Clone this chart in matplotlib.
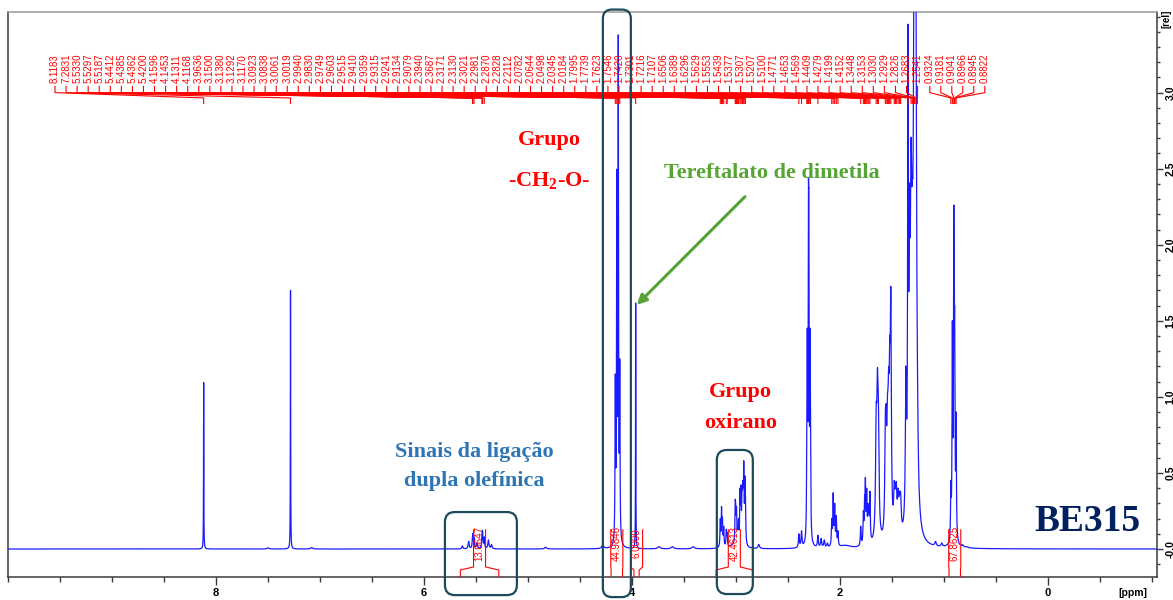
import numpy as np
import matplotlib
matplotlib.use("Agg")
import matplotlib.pyplot as plt
from matplotlib.patches import FancyBboxPatch
from matplotlib.transforms import IdentityTransform
from matplotlib.collections import LineCollection
from matplotlib.ticker import FixedLocator, MultipleLocator

plt.rcParams['mathtext.fontset'] = 'custom'
plt.rcParams['mathtext.rm'] = 'Liberation Serif:bold'
plt.rcParams['mathtext.it'] = 'Liberation Serif:bold'
plt.rcParams['mathtext.bf'] = 'Liberation Serif:bold'

# ---------------------------------------------------------------------------
# 1H NMR of BE315 (CDCl3): peak-picked shifts and apparent line heights
# ---------------------------------------------------------------------------
peak_ppm = [8.1183, 7.2831, 5.5330, 5.5297, 5.5187, 5.4412, 5.4385, 5.4362,
            5.4200, 4.1596, 4.1453, 4.1311, 4.1168, 3.9636, 3.1500, 3.1380,
            3.1292, 3.1170, 3.0923, 3.0838, 3.0061, 3.0019, 2.9940, 2.9830,
            2.9749, 2.9603, 2.9515, 2.9410, 2.9359, 2.9315, 2.9241, 2.9134,
            2.9079, 2.3940, 2.3687, 2.3171, 2.3130, 2.3021, 2.2981, 2.2870,
            2.2828, 2.2112, 2.0782, 2.0644, 2.0498, 2.0345, 2.0184, 1.7995,
            1.7739, 1.7623, 1.7546, 1.7420, 1.7301, 1.7216, 1.7107, 1.6506,
            1.6389, 1.6296, 1.5629, 1.5553, 1.5439, 1.5377, 1.5307, 1.5207,
            1.5100, 1.4771, 1.4653, 1.4569, 1.4409, 1.4279, 1.4199, 1.4152,
            1.3448, 1.3153, 1.3030, 1.2929, 1.2826, 1.2683, 1.2541, 0.9324,
            0.9181, 0.9041, 0.8966, 0.8945, 0.8822]
peak_height = [1.10, 1.70, 0.09, 0.10, 0.08, 0.11, 0.12, 0.12,
               0.08, 1.15, 2.50, 3.38, 1.25, 1.62, 0.20, 0.28,
               0.21, 0.15, 0.13, 0.11, 0.32, 0.30, 0.28, 0.15,
               0.20, 0.40, 0.42, 0.42, 0.40, 0.45, 0.58, 0.48,
               0.35, 0.10, 0.12, 1.03, 1.45, 2.39, 2.30, 1.45,
               1.00, 0.09, 0.20, 0.37, 0.30, 0.22, 0.12, 0.15,
               0.25, 0.35, 0.47, 0.40, 0.30, 0.28, 0.38, 0.95,
               1.19, 1.00, 0.90, 0.95, 1.00, 1.05, 1.20, 1.40,
               1.72, 0.45, 0.42, 0.44, 0.40, 0.38, 0.37, 0.37,
               3.45, 2.70, 2.45, 2.90, 5.50, 3.80, 1.25, 0.45,
               1.50, 2.26, 1.60, 1.30, 0.90]
peak_hwhm = ([0.0015, 0.0015] + [0.004] * 7 + [0.003] * 4 + [0.0015]
             + [0.0035] * 19 + [0.005] * 2 + [0.003] * 6 + [0.005]
             + [0.004] * 5 + [0.004] * 8 + [0.007] * 3 + [0.006] * 7
             + [0.007] * 7 + [0.004] + [0.008] * 6 + [0.0035] * 6)

# Unassigned small/broad features of the trace
minor_ppm = [7.50, 7.08, 5.63, 5.57, 5.49, 5.38, 5.35, 4.83, 4.28, 3.74,
             3.61, 3.41, 3.02, 2.78, 2.18, 2.15, 2.12, 1.95, 1.365, 1.330,
             1.16, 1.08, 1.02, 0.82, 0.78]
minor_height = [0.008, 0.010, 0.02, 0.05, 0.04, 0.06, 0.03, 0.012, 0.03,
                0.015, 0.015, 0.015, 0.05, 0.03, 0.07, 0.06, 0.04, 0.025,
                1.20, 2.40, 0.04, 0.05, 0.04, 0.03, 0.015]
minor_hwhm = [0.01, 0.01, 0.006, 0.006, 0.006, 0.006, 0.006, 0.01, 0.01,
              0.015, 0.015, 0.015, 0.05, 0.008, 0.006, 0.006, 0.006, 0.06,
              0.006, 0.006, 0.008, 0.008, 0.008, 0.008, 0.02]

# Integrated regions
integral_values = ['13.0647', '44.9846', '6.0000', '42.4613', '67.8625']
integral_start = [5.65, 4.20, 3.98, 3.19, 0.95]
integral_end = [5.28, 4.09, 3.93, 2.84, 0.84]

x_ticks = [8, 6, 4, 2, 0]
x_tick_labels = ['8', '6', '4', '2', '0']
y_ticks = [0.0, 0.5, 1.0, 1.5, 2.0, 2.5, 3.0]
y_tick_labels = ['-0.0', '0.5', '1.0', '1.5', '2.0', '2.5', '3.0']

# ---------------------------------------------------------------------------
# Build the trace as a sum of Lorentzian lines whose combined maxima hit the
# listed heights
# ---------------------------------------------------------------------------
centers = np.array(peak_ppm + minor_ppm)
targets = np.array(peak_height + minor_height)
widths = np.array(peak_hwhm + minor_hwhm)


def lorentz(x, c, w):
    return 1.0 / (1.0 + ((x - c) / w) ** 2)


M = lorentz(centers[:, None], centers[None, :], widths[None, :])
amps = targets.copy()
for _ in range(800):
    amps *= targets / (M @ amps)

ppm = np.linspace(10.0, -1.05, 40001)
spectrum = np.zeros_like(ppm)
for a, c, w in zip(amps, centers, widths):
    spectrum += a * lorentz(ppm, c, w)

# ---------------------------------------------------------------------------
fig = plt.figure(figsize=(11.73, 6.0), dpi=100)
ax = fig.add_axes([8 / 1173, 23 / 600, 1149 / 1173, 565 / 600])
ax.set_xlim(10.0, -1.05)
ax.set_ylim(-0.184, 3.53)

ax.plot(ppm, spectrum, color='#1a1aff', lw=0.9, zorder=3)

frame_col = '#3a3a3a'
for s in ax.spines.values():
    s.set_color(frame_col)
    s.set_linewidth(1.1)
ax.spines['top'].set_color('#9a9a9a')

ax.xaxis.set_major_locator(FixedLocator(x_ticks))
ax.xaxis.set_minor_locator(MultipleLocator(0.5))
ax.set_xticklabels(x_tick_labels, fontfamily='Liberation Sans',
                   fontweight='bold', fontsize=8)
ax.yaxis.tick_right()
ax.yaxis.set_major_locator(FixedLocator(y_ticks))
ax.yaxis.set_minor_locator(MultipleLocator(0.1))
ax.set_yticklabels(y_tick_labels, rotation=90, va='center',
                   fontfamily='Liberation Sans', fontweight='bold', fontsize=7.5)
ax.tick_params(axis='x', which='major', direction='out', length=6, width=1,
               color=frame_col, pad=2)
ax.tick_params(axis='x', which='minor', direction='out', length=3.5, width=1,
               color=frame_col)
ax.tick_params(axis='y', which='major', direction='out', length=4.5, width=1,
               color=frame_col, pad=1.5)
ax.tick_params(axis='y', which='minor', direction='out', length=2.5, width=1,
               color=frame_col)

fig.text(1133 / 1173, 1 - 593 / 600, '[ppm]', ha='center', va='center',
         fontfamily='Liberation Sans', fontweight='bold', fontsize=7.5)
fig.text(1167 / 1173, 1 - 19 / 600, '[rel]', ha='center', va='center',
         rotation=90, fontfamily='Liberation Sans', fontweight='bold',
         fontsize=7)

# ---- peak-pick labels across the top ----
red = '#ff0000'
n_main = 79
label_x = np.concatenate([9.548 - 0.10635 * np.arange(n_main),
                          1.135 - 0.1058 * np.arange(len(peak_ppm) - n_main)])
segs = []
for lx, px in zip(label_x, peak_ppm):
    segs.append([(lx, 3.045), (lx, 3.0), (px, 2.965), (px, 2.925)])
    ax.text(lx, 3.062, f'{px:.4f}', rotation=90, ha='center', va='bottom',
            color=red, fontsize=7, fontfamily='Liberation Sans', zorder=4)
ax.add_collection(LineCollection(segs, colors=red, linewidths=0.8, zorder=4))

# ---- integral labels below the baseline ----
hw = 0.058
isegs = []
for val, a, b in zip(integral_values, integral_start, integral_end):
    xc = 0.5 * (a + b)
    ax.text(xc, 0.035, val, rotation=90, ha='center', va='center',
            color=red, fontsize=7, fontfamily='Liberation Sans', zorder=5)
    isegs.append([(xc + hw, 0.13), (xc + hw, -0.118), (a, -0.138), (a, -0.184)])
    isegs.append([(xc - hw, 0.13), (xc - hw, -0.118), (b, -0.138), (b, -0.184)])
ax.add_collection(LineCollection(isegs, colors=red, linewidths=0.8, zorder=5,
                                 clip_on=False))

# ---- annotations ----
serif = 'Liberation Serif'
ax.text(4.798, 2.69, 'Grupo', color='#ff0000', fontfamily=serif,
        fontweight='bold', fontsize=16, ha='center', va='center')
ax.text(4.798, 2.42, r'-CH$_2$-O-', color='#ff0000', fontfamily=serif,
        fontweight='bold', fontsize=16, ha='center', va='center')
green = '#55a434'
ax.text(2.654, 2.474, 'Tereftalato de dimetila', color=green, fontfamily=serif,
        fontweight='bold', fontsize=16, ha='center', va='center')
ax.annotate('', xy=(3.952, 1.605), xytext=(2.913, 2.316),
            arrowprops=dict(arrowstyle='-|>', color=green, lw=2.2,
                            mutation_scale=14, shrinkA=0, shrinkB=0))
ax.text(2.952, 1.033, 'Grupo', color='#ff0000', fontfamily=serif,
        fontweight='bold', fontsize=16, ha='center', va='center')
ax.text(2.952, 0.829, 'oxirano', color='#ff0000', fontfamily=serif,
        fontweight='bold', fontsize=16, ha='center', va='center')
ax.text(5.519, 0.638, 'Sinais da ligação', color='#2e75b6', fontfamily=serif,
        fontweight='bold', fontsize=16, ha='center', va='center')
ax.text(5.519, 0.447, 'dupla olefínica', color='#2e75b6', fontfamily=serif,
        fontweight='bold', fontsize=16, ha='center', va='center')
ax.text(-0.385, 0.178, 'BE315', color='#002060', fontfamily=serif,
        fontweight='bold', fontsize=27, ha='center', va='center')

# ---- rounded highlight frames (data extents -> display space) ----
frames = [((5.798, 0.243), (5.106, -0.303), 10),
          ((4.279, 3.546), (4.010, -0.316), 9),
          ((3.183, 0.651), (2.837, -0.296), 10)]
for (x0, y0), (x1, y1), r in frames:
    (dx0, dy0), (dx1, dy1) = ax.transData.transform([(x0, y0), (x1, y1)])
    patch = FancyBboxPatch((min(dx0, dx1), min(dy0, dy1)), abs(dx1 - dx0),
                           abs(dy1 - dy0),
                           boxstyle=f'round,pad=0,rounding_size={r}',
                           transform=IdentityTransform(), fill=False,
                           edgecolor='#1d4a5c', linewidth=1.6, zorder=6)
    fig.patches.append(patch)

fig.savefig('out.png', dpi=100)
